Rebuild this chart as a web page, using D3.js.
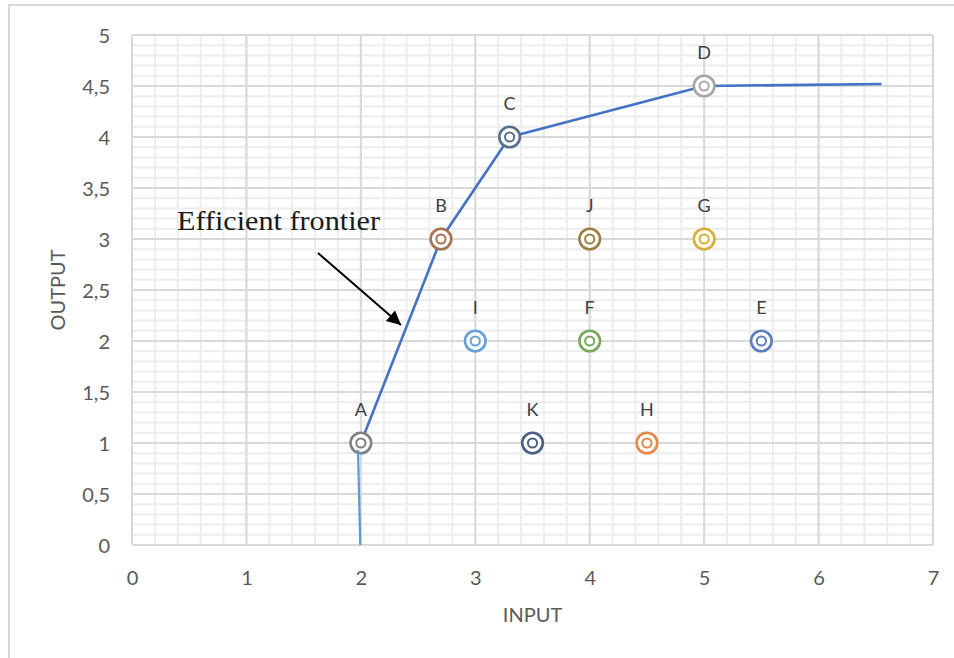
<!DOCTYPE html>
<html>
<head>
<meta charset="utf-8">
<script src="https://cdn.jsdelivr.net/npm/d3@7"></script>
<style>
  html, body { margin: 0; padding: 0; background: #ffffff; }
  svg { display: block; }
</style>
</head>
<body>
<svg id="chart" width="954" height="658"></svg>
<script>
// Decision-making units: input / output pairs
const unitNames = ["A", "B", "C", "D", "E", "F", "G", "H", "I", "J", "K"];
const unitInput = [2, 2.7, 3.3, 5, 5.5, 4, 5, 4.5, 3, 4, 3.5];
const unitOutput = [1, 3, 4, 4.5, 2, 2, 3, 1, 2, 3, 1];
const unitColors = ["#808080", "#a8714f", "#5a7089", "#a6a6a6", "#5a7dbd", "#76a858",
                    "#d9ae3a", "#e2884a", "#66a1d8", "#9c7f45", "#4b5e86"];

// Frontier envelope
const frontierInput = [2, 2.7, 3.3, 5, 6.55];
const frontierOutput = [1, 3, 4, 4.5, 4.52];

// Vertical extension below A
const lowerInput = [1.975, 1.995];
const lowerOutput = [0.93, 0];

// Axis ticks
const xTicks = [0, 1, 2, 3, 4, 5, 6, 7];
const yTicks = [0, 0.5, 1, 1.5, 2, 2.5, 3, 3.5, 4, 4.5, 5];

// Annotation text and arrow (data coordinates)
const noteText = "Efficient frontier";
const notePos = [0.393, 3.088];
const arrowFrom = [1.625, 2.863];
const arrowTo = [2.351, 2.157];

const svg = d3.select("#chart");
const W = 954, H = 658;
const plot = { left: 132, right: 933, top: 35, bottom: 545 };

const x = d3.scaleLinear().domain([0, 7]).range([plot.left, plot.right]);
const y = d3.scaleLinear().domain([0, 5]).range([plot.bottom, plot.top]);

const locale = d3.formatLocale({ decimal: ",", thousands: ".", grouping: [3], currency: ["", "€"] });
const fmt = locale.format("~g");

// Outer chart frame
svg.append("rect")
  .attr("x", 9).attr("y", 5)
  .attr("width", W + 20).attr("height", H + 20)
  .attr("fill", "#ffffff")
  .attr("stroke", "#d9d9d9").attr("stroke-width", 2);

// Minor gridlines
const minorX = d3.range(0, 7.0001, 0.2);
const minorY = d3.range(0, 5.0001, 0.1);
const grid = svg.append("g");
grid.selectAll("line.mx").data(minorX).join("line")
  .attr("x1", d => x(d)).attr("x2", d => x(d))
  .attr("y1", plot.top).attr("y2", plot.bottom)
  .attr("stroke", "#ededed").attr("stroke-width", 2);
grid.selectAll("line.my").data(minorY).join("line")
  .attr("x1", plot.left).attr("x2", plot.right)
  .attr("y1", d => y(d)).attr("y2", d => y(d))
  .attr("stroke", "#ededed").attr("stroke-width", 2);

// Major gridlines
grid.selectAll("line.Mx").data(xTicks).join("line")
  .attr("x1", d => x(d)).attr("x2", d => x(d))
  .attr("y1", plot.top).attr("y2", plot.bottom)
  .attr("stroke", "#d9d9d9").attr("stroke-width", 2);
grid.selectAll("line.My").data(yTicks).join("line")
  .attr("x1", plot.left).attr("x2", plot.right)
  .attr("y1", d => y(d)).attr("y2", d => y(d))
  .attr("stroke", "#d9d9d9").attr("stroke-width", 2);

// Axes (labels only, Excel style)
const xAxis = d3.axisBottom(x).tickValues(xTicks).tickFormat(fmt).tickSize(0).tickPadding(0);
const gx = svg.append("g").attr("transform", `translate(0,${plot.bottom})`).call(xAxis);
gx.select(".domain").remove();
gx.selectAll("text")
  .attr("dy", null).attr("y", 40)
  .attr("font-family", "Lato, sans-serif").attr("font-size", 20)
  .attr("fill", "#595959");

const yAxis = d3.axisLeft(y).tickValues(yTicks).tickFormat(fmt).tickSize(0).tickPadding(0);
const gy = svg.append("g").attr("transform", `translate(110,0)`).call(yAxis);
gy.select(".domain").remove();
gy.selectAll("text")
  .attr("dy", "0.36em").attr("x", 0)
  .attr("font-family", "Lato, sans-serif").attr("font-size", 20)
  .attr("fill", "#595959");

// Axis titles
svg.append("text")
  .attr("x", (plot.left + plot.right) / 2).attr("y", 622)
  .attr("text-anchor", "middle")
  .attr("font-family", "Lato, sans-serif").attr("font-size", 20)
  .attr("fill", "#595959")
  .text("INPUT");
svg.append("text")
  .attr("transform", "translate(65,290) rotate(-90)")
  .attr("text-anchor", "middle")
  .attr("font-family", "Lato, sans-serif").attr("font-size", 20)
  .attr("fill", "#595959")
  .text("OUTPUT");

// Frontier line
const line = d3.line().x(d => x(d[0])).y(d => y(d[1]));
svg.append("path")
  .datum(d3.zip(frontierInput, frontierOutput))
  .attr("d", line)
  .attr("fill", "none")
  .attr("stroke", "#4472c4").attr("stroke-width", 2.6)
  .attr("stroke-linejoin", "round");

// Units as ringed markers
const units = unitNames.map((n, i) => ({ name: n, input: unitInput[i], output: unitOutput[i], color: unitColors[i] }));
const mk = svg.append("g").selectAll("g").data(units).join("g")
  .attr("transform", d => `translate(${x(d.input)},${y(d.output)})`);
mk.append("circle").attr("r", 10.3)
  .attr("fill", "#ffffff").attr("stroke", d => d.color).attr("stroke-width", 2.6);
mk.append("circle").attr("r", 4.6)
  .attr("fill", "#ffffff").attr("stroke", d => d.color).attr("stroke-width", 2);
mk.append("text")
  .attr("y", -27.5)
  .attr("text-anchor", "middle")
  .attr("font-family", "Lato, sans-serif").attr("font-size", 18)
  .attr("fill", "#404040")
  .text(d => d.name);

// Extension below A
svg.append("path")
  .datum(d3.zip(lowerInput, lowerOutput))
  .attr("d", line)
  .attr("fill", "none")
  .attr("stroke", "#5b9bd5").attr("stroke-width", 2.2);

// Annotation
svg.append("text")
  .attr("x", x(notePos[0])).attr("y", y(notePos[1]))
  .attr("font-family", "'Liberation Serif', 'DejaVu Serif', serif").attr("font-size", 27)
  .attr("textLength", 203).attr("lengthAdjust", "spacingAndGlyphs")
  .attr("fill", "#1a1a1a")
  .text(noteText);

svg.append("defs").append("marker")
  .attr("id", "arrowhead")
  .attr("viewBox", "0 0 10 10")
  .attr("refX", 10).attr("refY", 5)
  .attr("markerWidth", 8).attr("markerHeight", 7)
  .attr("markerUnits", "strokeWidth")
  .attr("orient", "auto")
  .append("path").attr("d", "M0,0 L10,5 L0,10 Z").attr("fill", "#000000");

svg.append("line")
  .attr("x1", x(arrowFrom[0])).attr("y1", y(arrowFrom[1]))
  .attr("x2", x(arrowTo[0])).attr("y2", y(arrowTo[1]))
  .attr("stroke", "#000000").attr("stroke-width", 2)
  .attr("marker-end", "url(#arrowhead)");
</script>
</body>
</html>
